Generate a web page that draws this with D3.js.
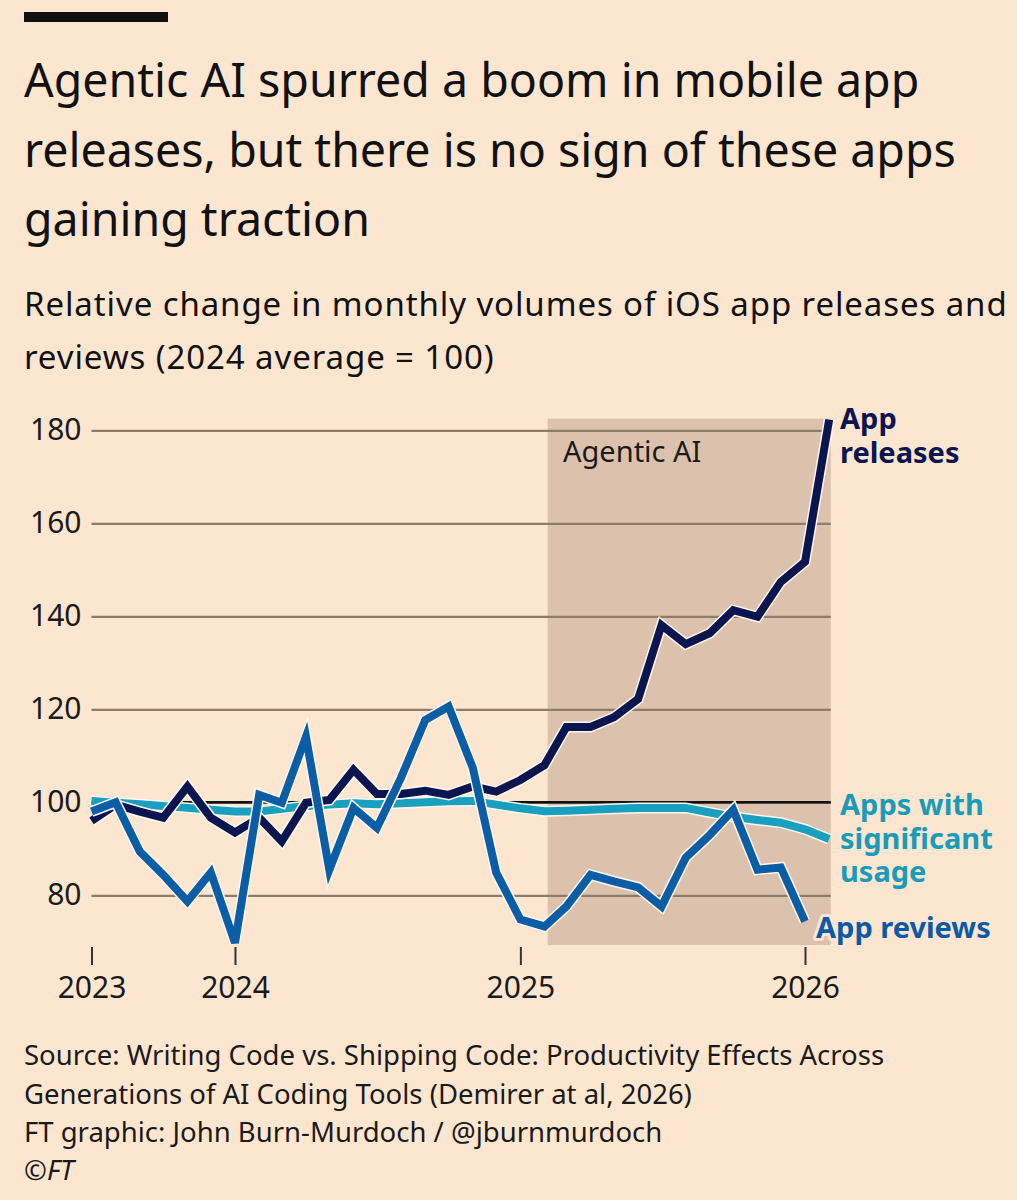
<!DOCTYPE html>
<html>
<head>
<meta charset="utf-8">
<script src="https://cdn.jsdelivr.net/npm/d3@7"></script>
<style>
  html, body { margin: 0; padding: 0; background: #fde6d0; }
  svg { display: block; font-family: 'Noto Sans', sans-serif; }
</style>
</head>
<body>
<svg id="chart" width="1017" height="1200"></svg>
<script>
// monthly points, Jul 2023 .. Feb 2026
const months = d3.timeMonths(new Date(2023, 6, 1), new Date(2026, 2, 1));

const appReleases = [96, 99.5, 98, 96.7, 103.4, 96.7, 93.5, 96.7, 91.6, 99.9, 100.5, 107,
  101.8, 101.8, 102.5, 101.6, 103.4, 102.3, 104.8, 108, 116.2, 116.2, 118.3, 122.2,
  138.1, 134, 136.4, 141.3, 139.9, 147.4, 151.7, 182.3];

const appReviews = [98, 100, 89.4, 84.4, 78.7, 84.9, 69.8, 101.6, 99.9, 114.1, 85.5, 98.8,
  94.5, 105.3, 117.7, 120.6, 107.4, 84.9, 74.8, 73.3, 77.6, 84.4, 83, 81.7,
  77.6, 88.1, 93, 98.4, 85.5, 86, 74.4];

const significantUsage = [100.3, 99.9, 99.6, 99.2, 98.8, 98.4, 98, 98, 98.6, 99.2, 99.5, 99.8,
  99.6, 99.8, 100, 100.2, 100.3, 99.5, 98.7, 98.1, 98.2, 98.4, 98.6, 98.8,
  98.8, 98.8, 97.8, 96.9, 96.2, 95.6, 94.2, 92.1];

const yTicks = [80, 100, 120, 140, 160, 180];
const xTicks = [new Date(2023, 6, 1), new Date(2024, 0, 1), new Date(2025, 0, 1), new Date(2026, 0, 1)];
const xTickLabels = ['2023', '2024', '2025', '2026'];
const agentic = [new Date(2025, 1, 5), new Date(2026, 1, 3)];
const agenticRange = [182.5, 69.3];

const titleLines = ['Agentic AI spurred a boom in mobile app', 'releases, but there is no sign of these apps', 'gaining traction'];
const subtitleLines = ['Relative change in monthly volumes of iOS app releases and', 'reviews (2024 average = 100)'];
const sourceLines = ['Source: Writing Code vs. Shipping Code: Productivity Effects Across',
  'Generations of AI Coding Tools (Demirer at al, 2026)',
  'FT graphic: John Burn-Murdoch / @jburnmurdoch'];

const series = [
  { name: 'usage', values: significantUsage, color: '#18a0be', label: ['Apps with', 'significant', 'usage'], labelColor: '#1a9bb8', ly: 815, lx: 840 },
  { name: 'releases', values: appReleases, color: '#0b1650', label: ['App', 'releases'], labelColor: '#0b1650', ly: 429, lx: 840 },
  { name: 'reviews', values: appReviews, color: '#0b5da6', label: ['App reviews'], labelColor: '#0b5aa5', ly: 938, lx: 816 },
];

const bg = '#fde6d0';
const svg = d3.select('#chart');

const x = d3.scaleTime().domain([new Date(2023, 6, 1), new Date(2026, 0, 1)]).range([91.5, 805]);
const y = d3.scaleLinear().domain([80, 180]).range([895.3, 430.3]);
const gridLeft = x(months[0]);
const gridRight = x(agentic[1]);

// header
svg.append('rect').attr('x', 24).attr('y', 12).attr('width', 144).attr('height', 10).attr('fill', '#111');

svg.append('g').selectAll('text').data(titleLines).join('text')
  .attr('x', 24).attr('y', (d, i) => 97 + i * 69.5)
  .style('font-size', '46.5px').attr('fill', '#111')
  .text(d => d);

svg.append('g').selectAll('text').data(subtitleLines).join('text')
  .attr('x', 24).attr('y', (d, i) => 316 + i * 53)
  .style('font-size', '33px').style('letter-spacing', '0.9px').attr('fill', '#111')
  .text(d => d);

// shaded period
svg.append('rect')
  .attr('x', x(agentic[0])).attr('y', y(agenticRange[0]))
  .attr('width', x(agentic[1]) - x(agentic[0]))
  .attr('height', y(agenticRange[1]) - y(agenticRange[0]))
  .attr('fill', '#dcc1ad');

// y gridlines
const yAxis = svg.append('g')
  .attr('transform', `translate(${gridLeft},0)`)
  .call(d3.axisLeft(y).tickValues(yTicks).tickSize(-(gridRight - gridLeft)).tickPadding(10));
yAxis.select('.domain').remove();
yAxis.selectAll('line').attr('stroke', '#8d7b6c').attr('stroke-width', 2.2);
yAxis.selectAll('text').style('font-size', '30px').style('font-family', "'Noto Sans', sans-serif").attr('fill', '#1a1a1a');

svg.append('text').attr('x', 563).attr('y', 462)
  .style('font-size', '29px').attr('fill', '#1a1a1a').text('Agentic AI');

// baseline at 100
svg.append('line')
  .attr('x1', gridLeft).attr('x2', gridRight)
  .attr('y1', y(100)).attr('y2', y(100))
  .attr('stroke', '#111').attr('stroke-width', 2.6);

// x axis
const xAxis = svg.append('g')
  .attr('transform', 'translate(0,947)')
  .call(d3.axisBottom(x).tickValues(xTicks).tickSize(18).tickPadding(12)
    .tickFormat((d, i) => xTickLabels[i]));
xAxis.select('.domain').remove();
xAxis.selectAll('line').attr('stroke', '#333').attr('stroke-width', 2);
xAxis.selectAll('text').style('font-size', '30px').style('font-family', "'Noto Sans', sans-serif").attr('fill', '#1a1a1a');

// lines
const line = d3.line().x((d, i) => x(months[i])).y(d => y(d));

series.forEach(s => {
  const g = svg.append('g').attr('class', 'series-' + s.name);
  g.append('path').attr('d', line(s.values))
    .attr('fill', 'none').attr('stroke', '#fff7ef').attr('stroke-width', 11)
    .attr('stroke-linejoin', 'miter');
  g.append('path').attr('d', line(s.values))
    .attr('fill', 'none').attr('stroke', s.color).attr('stroke-width', 8)
    .attr('stroke-linejoin', 'miter');
});

// direct labels, one text element per series
series.forEach(s => {
  const t = svg.append('text')
    .attr('x', s.lx).attr('y', s.ly)
    .style('font-size', '29px').style('font-weight', 700)
    .attr('fill', s.labelColor)
    .attr('stroke', bg).attr('stroke-width', 6).attr('paint-order', 'stroke')
    .attr('stroke-linejoin', 'round');
  t.selectAll('tspan').data(s.label).join('tspan')
    .attr('x', s.lx).attr('dy', (d, i) => i ? 33.5 : 0)
    .text(d => d);
});

// source
svg.append('g').selectAll('text').data(sourceLines).join('text')
  .attr('x', 24).attr('y', (d, i) => 1065 + i * 38.5)
  .style('font-size', '27.5px').attr('fill', '#1a1a1a')
  .text(d => d);
svg.append('text').attr('x', 24).attr('y', 1180)
  .style('font-size', '27.5px').style('font-style', 'italic').attr('fill', '#1a1a1a')
  .text('©FT');
</script>
</body>
</html>
